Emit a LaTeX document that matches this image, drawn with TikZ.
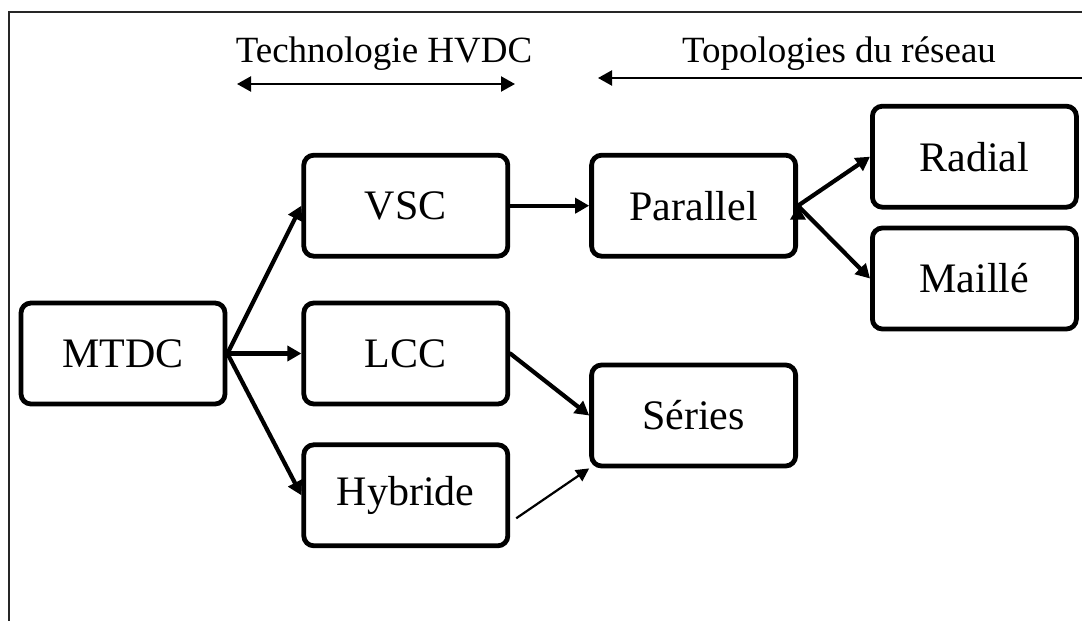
\documentclass[tikz,border=0pt]{standalone}
\usepackage{fontspec}
\setmainfont{Liberation Serif}
\usetikzlibrary{positioning}
\usetikzlibrary{arrows.meta}
\tikzset{box node/.style={rectangle,rounded corners=5pt,draw,line width=2.4pt,minimum width=102pt,minimum height=50.5pt,inner sep=0pt,font=\fontsize{21}{25}\selectfont},
title node/.style={inner sep=0pt,anchor=base,font=\fontsize{18.5}{22}\selectfont},}

\begin{document}
\begin{tikzpicture}[->, >={Triangle[length=7pt,width=7.5pt]}, x=0.5pt, y=-0.5pt]
		\useasboundingbox (0,0) rectangle (1082,621);
		\draw[-,line width=0.8pt,black!85] (8,12) -- (1082,12) (9,12) -- (9,621);

		\node[title node] (techno) at (384,62) {Technologie HVDC};
		\node[title node] (topo) at (839,62) {Topologies du réseau};
		\coordinate (techL) at (237,84);
		\coordinate (techR) at (515,84);
		\coordinate (topoR) at (1082,78);
		\coordinate (topoL) at (598,78);
		\draw[<->,line width=1.1pt] (techL) -- (techR);
		\draw[line width=1.1pt] (topoR) -- (topoL);

		\node[box node] (mtdc) at (123,353.5) {MTDC};
	    \node[box node] (lcc) [right = 37pt of mtdc] {LCC};
	    \node[box node] (vsc) [above = 21pt of lcc] {VSC};
	    \node[box node] (hyb) [below = 18pt of lcc] {Hybride};
	    \node[box node] (par) [right = 39.5pt of vsc] {Parallel};
	    \node[box node] (ser) [right = 39.5pt of lcc, yshift=-31pt] {Séries};
	    \node[box node] (rad) [right = 36pt of par, yshift=24.5pt] {Radial};
	    \node[box node] (mai) [below = 8pt of rad] {Maillé};

	    \path[draw,line width=2.1pt,line cap=round]
	    (mtdc.east) edge (vsc.west)
	    (mtdc.east) edge (lcc.west)
	    (mtdc.east) edge (hyb.west)
	    (vsc.east) edge (par.west)
	    (lcc.east) edge (ser.west)
	    (par.east) edge (rad.west)
	    (par.east) edge (mai.west);
	    \draw[line width=1.1pt,-{Triangle[length=6.5pt,width=6.5pt]}] ([shift={(3pt,-11.5pt)}]hyb.east) -- (ser.south west);
\end{tikzpicture}
\end{document}
